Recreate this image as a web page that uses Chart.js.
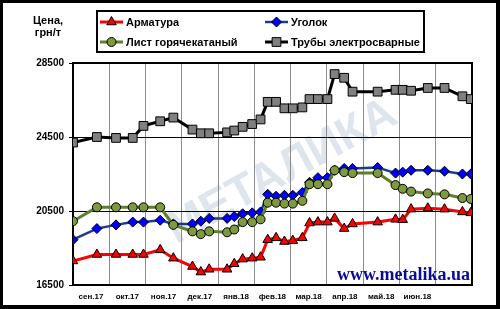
<!DOCTYPE html>
<html>
<head>
<meta charset="utf-8">
<script src="https://cdn.jsdelivr.net/npm/chart.js@4.4.0/dist/chart.umd.min.js"></script>
<style>
  body { margin: 0; background: #fff; }
  #wrap { width: 500px; height: 309px; }
</style>
</head>
<body>
<div id="wrap"><canvas id="chart" width="500" height="309"></canvas></div>
<script>
// dates of the price reports
var dates = ['2017-09-01', '2017-09-21', '2017-10-07', '2017-10-21', '2017-10-30', '2017-11-13',
    '2017-11-24', '2017-12-10', '2017-12-17', '2017-12-24', '2018-01-08', '2018-01-14',
    '2018-01-21', '2018-01-29', '2018-02-05', '2018-02-11', '2018-02-18', '2018-02-25',
    '2018-03-04', '2018-03-12', '2018-03-18', '2018-03-25', '2018-04-02', '2018-04-08',
    '2018-04-16', '2018-04-23', '2018-05-14', '2018-05-29', '2018-06-04', '2018-06-11',
    '2018-06-25', '2018-07-09', '2018-07-24', '2018-07-31'];

var armatura = [17800, 18150, 18150, 18150, 18150, 18400, 17950, 17500, 17200, 17350,
    17350, 17650, 17900, 17950, 18000, 18950, 19050, 18850, 18900, 19050,
    19850, 19900, 19900, 20100, 19550, 19800, 19900, 20050, 20030, 20600,
    20650, 20600, 20450, 20400];

var ugolok = [18950, 19550, 19750, 19900, 19900, 20000, 19800, 19800, 19950, 20100,
    20100, 20200, 20350, 20400, 20450, 21400, 21300, 21350, 21350, 21500,
    22050, 22300, 22300, 22700, 22800, 22800, 22850, 22550, 22600, 22700,
    22700, 22650, 22500, 22500];

var list = [19950, 20700, 20700, 20700, 20700, 20700, 19750, 19400, 19250, 19400,
    19350, 19500, 19900, 19900, 20050, 20950, 20950, 20900, 20900, 21050,
    21950, 21950, 21950, 22700, 22600, 22550, 22550, 21900, 21700, 21550,
    21450, 21400, 21200, 21150];

var truby = [24200, 24500, 24450, 24450, 25100, 25350, 25550, 24900, 24700, 24700,
    24750, 24850, 25050, 25200, 25450, 26400, 26400, 26050, 26050, 26100,
    26550, 26550, 26550, 27900, 27700, 26950, 26950, 27050, 27050, 27000,
    27150, 27150, 26700, 26550];

var monthLabels = ['сен.17', 'окт.17', 'ноя.17', 'дек.17', 'янв.18', 'фев.18',
    'мар.18', 'апр.18', 'май.18', 'июн.18', '', ''];
var yTicks = [16500, 20500, 24500, 28500];

var START = Date.UTC(2017, 8, 1);
var SPAN = 334; // days shown on the axis

function dayOf(s) {
    var p = s.split('-');
    return (Date.UTC(+p[0], +p[1] - 1, +p[2]) - START) / 86400000;
}

function toPoints(values) {
    return values.map(function(v, i) {
        return { x: dayOf(dates[i]), y: v };
    });
}

var FONT = '"Liberation Sans", Arial, sans-serif';

var pagePlugin = {
    id: 'page',
    beforeDraw: function(chart) {
        var ctx = chart.ctx;
        ctx.save();
        ctx.fillStyle = '#fff';
        ctx.fillRect(0, 0, chart.width, chart.height);
        // watermark
        ctx.translate(282, 172);
        ctx.rotate(-0.5);
        ctx.fillStyle = 'rgba(195, 208, 220, 0.55)';
        ctx.font = 'bold 46px ' + FONT;
        ctx.textAlign = 'center';
        ctx.textBaseline = 'middle';
        ctx.fillText('МЕТАЛИКА', 0, 0);
        ctx.restore();
    },
    beforeDatasetsDraw: function(chart) {
        var a = chart.chartArea, ctx = chart.ctx;
        ctx.save();
        ctx.strokeStyle = '#000';
        ctx.lineWidth = 2;
        ctx.strokeRect(a.left, a.top, a.right - a.left, a.bottom - a.top);
        ctx.restore();
    },
    afterDraw: function(chart) {
        var ctx = chart.ctx;
        ctx.save();
        // axis title
        ctx.fillStyle = '#000';
        ctx.font = 'bold 11px ' + FONT;
        ctx.textAlign = 'center';
        ctx.textBaseline = 'middle';
        ctx.fillText('Цена,', 48, 21);
        ctx.fillText('грн/т', 48, 33);

        // legend
        ctx.lineWidth = 2;
        ctx.strokeStyle = '#000';
        ctx.strokeRect(97, 11, 327, 41);
        var spots = [[100, 22], [265, 22], [100, 42], [265, 42]];
        var order = [0, 1, 2, 3];
        order.forEach(function(di, k) {
            var ds = chart.data.datasets[di];
            var x = spots[k][0], y = spots[k][1];
            ctx.strokeStyle = ds.borderColor;
            ctx.lineWidth = ds.borderWidth;
            ctx.beginPath();
            ctx.moveTo(x, y);
            ctx.lineTo(x + 23, y);
            ctx.stroke();
            ctx.fillStyle = ds.pointBackgroundColor;
            ctx.strokeStyle = '#000';
            ctx.lineWidth = 1;
            Chart.helpers.drawPoint(ctx, {
                pointStyle: ds.pointStyle, radius: ds.pointRadius, rotation: 0, borderWidth: 1
            }, x + 11.5, y);
            ctx.fillStyle = '#000';
            ctx.font = 'bold 11px ' + FONT;
            ctx.textAlign = 'left';
            ctx.fillText(ds.label, x + 26, y + 1);
        });

        // site name
        ctx.fillStyle = '#0b0b96';
        ctx.font = 'bold 18px "Liberation Serif", "Times New Roman", serif';
        ctx.textAlign = 'right';
        ctx.textBaseline = 'alphabetic';
        ctx.fillText('www.metalika.ua', 470, 280);

        // outer frame
        ctx.fillStyle = '#000';
        ctx.fillRect(0, 0, 500, 3);
        ctx.fillRect(0, 0, 3, 309);
        ctx.fillRect(496, 0, 4, 309);
        ctx.fillRect(0, 305, 500, 4);
        ctx.restore();
    }
};

var ctx = document.getElementById('chart').getContext('2d');
new Chart(ctx, {
    type: 'line',
    data: {
        datasets: [{
            label: 'Арматура',
            data: toPoints(armatura),
            borderColor: '#ff0000',
            borderWidth: 3,
            pointStyle: 'triangle',
            pointRadius: 5.5,
            pointBackgroundColor: '#ff0000',
            pointBorderColor: '#000',
            pointBorderWidth: 1,
            order: 4
        }, {
            label: 'Уголок',
            data: toPoints(ugolok),
            borderColor: '#1b3c8c',
            borderWidth: 2.5,
            pointStyle: 'rectRot',
            pointRadius: 5,
            pointBackgroundColor: '#0000ff',
            pointBorderColor: '#000',
            pointBorderWidth: 1,
            order: 3
        }, {
            label: 'Лист горячекатаный',
            data: toPoints(list),
            borderColor: '#5f7f2a',
            borderWidth: 3,
            pointStyle: 'circle',
            pointRadius: 4.5,
            pointBackgroundColor: '#7d9a3e',
            pointBorderColor: '#000',
            pointBorderWidth: 1,
            order: 2
        }, {
            label: 'Трубы электросварные',
            data: toPoints(truby),
            borderColor: '#000',
            borderWidth: 3,
            pointStyle: 'rect',
            pointRadius: 6.2,
            pointBackgroundColor: '#808080',
            pointBorderColor: '#000',
            pointBorderWidth: 1,
            order: 1
        }]
    },
    options: {
        responsive: false,
        animation: false,
        devicePixelRatio: 1,
        layout: { padding: { top: 63, right: 28, bottom: 0, left: 0 } },
        plugins: {
            legend: { display: false },
            tooltip: { enabled: false }
        },
        elements: { line: { tension: 0 } },
        scales: {
            x: {
                type: 'linear',
                min: 0,
                max: SPAN,
                afterBuildTicks: function(s) {
                    s.ticks = monthLabels.map(function(m, i) { return { value: i * SPAN / 11 }; });
                },
                afterFit: function(s) { s.height = 24; },
                grid: { color: '#8c8c8c', lineWidth: 1, drawTicks: false },
                border: { display: false },
                ticks: {
                    autoSkip: false,
                    maxRotation: 0,
                    labelOffset: 18,
                    padding: 7,
                    color: '#000',
                    font: { family: FONT, size: 8, weight: 'bold' },
                    callback: function(v, i) { return monthLabels[i]; }
                }
            },
            y: {
                min: 16500,
                max: 28500,
                afterBuildTicks: function(s) {
                    s.ticks = yTicks.map(function(v) { return { value: v }; });
                },
                afterFit: function(s) { s.width = 73; },
                grid: { color: '#000', lineWidth: 1, tickLength: 4 },
                border: { display: false },
                ticks: {
                    padding: 5,
                    color: '#000',
                    font: { family: FONT, size: 10, weight: 'bold' },
                    callback: function(v) { return String(v); }
                }
            }
        }
    },
    plugins: [pagePlugin]
});
</script>
</body>
</html>
